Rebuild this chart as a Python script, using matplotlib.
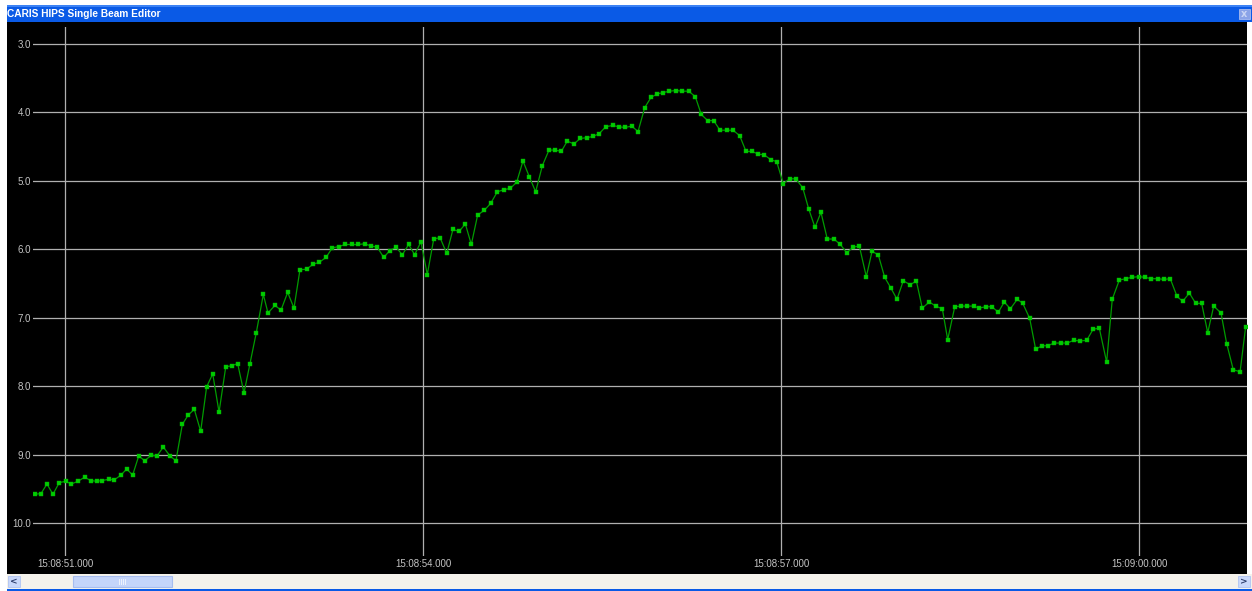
#
# plot.py - CARIS HIPS single beam editor view (depth vs time)
#
import matplotlib
matplotlib.use("Agg")
import matplotlib.pyplot as plt
from matplotlib.patches import Rectangle

# seconds after 15:08:51.000 for each sounding
times = [
    -0.254, -0.201, -0.151, -0.101, -0.048, 0.006, 0.053, 0.109, 0.165, 0.215,
    0.266, 0.310, 0.369, 0.413, 0.469, 0.517, 0.567, 0.618, 0.668, 0.723,
    0.771, 0.824, 0.880, 0.930, 0.983, 1.033, 1.084, 1.137, 1.187, 1.238,
    1.291, 1.347, 1.399, 1.447, 1.500, 1.550, 1.603, 1.662, 1.701, 1.760,
    1.810, 1.866, 1.919, 1.969, 2.025, 2.078, 2.131, 2.187, 2.240, 2.294,
    2.349, 2.403, 2.455, 2.511, 2.562, 2.617, 2.671, 2.721, 2.774, 2.827,
    2.880, 2.930, 2.983, 3.036, 3.090, 3.143, 3.199, 3.251, 3.302, 3.355,
    3.405, 3.458, 3.514, 3.567, 3.623, 3.676, 3.732, 3.785, 3.838, 3.891,
    3.944, 4.000, 4.056, 4.109, 4.159, 4.209, 4.265, 4.318, 4.372, 4.427,
    4.477, 4.531, 4.590, 4.640, 4.693, 4.749, 4.802, 4.858, 4.911, 4.963,
    5.014, 5.064, 5.123, 5.173, 5.227, 5.282, 5.332, 5.386, 5.436, 5.489,
    5.545, 5.598, 5.654, 5.707, 5.757, 5.810, 5.860, 5.914, 5.964, 6.019,
    6.073, 6.123, 6.182, 6.232, 6.285, 6.335, 6.388, 6.444, 6.497, 6.551,
    6.606, 6.656, 6.715, 6.763, 6.815, 6.869, 6.922, 6.972, 7.025, 7.084,
    7.134, 7.184, 7.243, 7.296, 7.352, 7.397, 7.456, 7.506, 7.559, 7.615,
    7.659, 7.715, 7.768, 7.821, 7.871, 7.922, 7.980, 8.026, 8.084, 8.134,
    8.187, 8.235, 8.288, 8.346, 8.399, 8.453, 8.508, 8.562, 8.615, 8.667,
    8.729, 8.776, 8.835, 8.889, 8.941, 8.998, 9.050, 9.103, 9.157, 9.210,
    9.262, 9.319, 9.366, 9.422, 9.475, 9.525, 9.576, 9.626, 9.687, 9.735,
    9.790, 9.847, 9.894,
]

# depth in metres
depths = [
    9.58, 9.57, 9.43, 9.58, 9.41, 9.39, 9.43, 9.39, 9.33, 9.38,
    9.39, 9.38, 9.36, 9.37, 9.30, 9.21, 9.30, 9.02, 9.09, 9.01,
    9.02, 8.89, 9.02, 9.09, 8.56, 8.42, 8.34, 8.66, 8.01, 7.82,
    8.38, 7.72, 7.70, 7.67, 8.10, 7.67, 7.22, 6.66, 6.93, 6.82,
    6.89, 6.63, 6.86, 6.30, 6.29, 6.22, 6.19, 6.12, 5.98, 5.96,
    5.93, 5.93, 5.93, 5.92, 5.95, 5.97, 6.12, 6.02, 5.97, 6.08,
    5.93, 6.08, 5.89, 6.37, 5.85, 5.83, 6.06, 5.71, 5.74, 5.63,
    5.93, 5.50, 5.43, 5.33, 5.16, 5.13, 5.11, 5.02, 4.71, 4.94,
    5.16, 4.78, 4.55, 4.55, 4.57, 4.42, 4.46, 4.38, 4.37, 4.35,
    4.31, 4.21, 4.19, 4.21, 4.22, 4.20, 4.28, 3.93, 3.78, 3.73,
    3.71, 3.69, 3.68, 3.69, 3.69, 3.77, 4.03, 4.12, 4.12, 4.26,
    4.26, 4.26, 4.34, 4.57, 4.57, 4.61, 4.62, 4.69, 4.72, 5.04,
    4.97, 4.97, 5.10, 5.41, 5.68, 5.46, 5.85, 5.85, 5.93, 6.05,
    5.97, 5.95, 6.40, 6.03, 6.08, 6.41, 6.57, 6.73, 6.46, 6.52,
    6.46, 6.86, 6.77, 6.83, 6.87, 7.32, 6.84, 6.83, 6.83, 6.83,
    6.86, 6.84, 6.84, 6.92, 6.77, 6.87, 6.73, 6.79, 7.01, 7.46,
    7.41, 7.41, 7.37, 7.37, 7.37, 7.33, 7.34, 7.33, 7.17, 7.15,
    7.65, 6.73, 6.45, 6.43, 6.41, 6.40, 6.41, 6.43, 6.43, 6.44,
    6.43, 6.69, 6.76, 6.64, 6.79, 6.79, 7.22, 6.83, 6.93, 7.38,
    7.76, 7.79, 7.13,
]

depth_ticks = [3.0, 4.0, 5.0, 6.0, 7.0, 8.0, 9.0, 10.0]
time_ticks = [0, 3, 6, 9]
time_labels = ["15:08:51.000", "15:08:54.000", "15:08:57.000", "15:09:00.000"]

W, H = 1252, 591
fig = plt.figure(figsize=(W / 100, H / 100), dpi=100, facecolor="white")

# window chrome drawn in pixel coordinates
bg = fig.add_axes([0, 0, 1, 1])
bg.set_xlim(0, W)
bg.set_ylim(H, 0)
bg.axis("off")

bg.add_patch(Rectangle((7, 5), W - 7, 17, color="#0a5ae6", lw=0))
bg.add_patch(Rectangle((7, 5), W - 7, 2, color="#3c82f4", lw=0))
bg.text(7, 14, "CARIS HIPS Single Beam Editor", color="white",
        fontsize=7.3, fontweight="bold", family="Liberation Sans",
        va="center", ha="left")
# greyed close button
bg.add_patch(Rectangle((1238.5, 9), 11, 10, facecolor="#8aa3e8",
                       edgecolor="#a9bcf0", lw=0.6))
bg.text(1244, 14, "x", color="#c9d5f5", fontsize=7, fontweight="bold",
        ha="center", va="center")

# black plotting canvas
bg.add_patch(Rectangle((7, 22), 1240, 552, color="black", lw=0))

# scrollbar
bg.add_patch(Rectangle((7, 574), W - 7, 15, color="#f4f2ec", lw=0))
bg.add_patch(Rectangle((8, 576), 12, 11, facecolor="#c9d8fb",
                       edgecolor="#b0c4f2", lw=0.6))
bg.text(14, 581.5, "<", color="#2b3c6b", fontsize=6.5, fontweight="bold",
        ha="center", va="center")
bg.add_patch(Rectangle((1238, 576), 12, 11, facecolor="#c9d8fb",
                       edgecolor="#b0c4f2", lw=0.6))
bg.text(1244, 581.5, ">", color="#2b3c6b", fontsize=6.5, fontweight="bold",
        ha="center", va="center")
bg.add_patch(Rectangle((73, 576), 99, 11, facecolor="#c4d5fa",
                       edgecolor="#a6bdf0", lw=0.8))
for gx in (119, 121, 123, 125):
    bg.plot([gx, gx], [579, 584], color="#eef3fe", lw=0.7)
bg.add_patch(Rectangle((7, 588.5), W - 7, 2.5, color="#0a5ae6", lw=0))

# data axes
left, right, top, bottom = 33, 1247, 27, 556
ax = fig.add_axes([left / W, (H - bottom) / H, (right - left) / W, (bottom - top) / H])
ax.set_facecolor("black")
for s in ax.spines.values():
    s.set_visible(False)

ax.plot(times, depths, color="#009c00", lw=0.9, marker="s", markersize=3.0,
        markerfacecolor="#00cc00", markeredgecolor="#00b000", markeredgewidth=0.3)

ax.set_xlim(-0.268, 9.905)
ax.set_ylim(10.482, 2.752)

ax.set_yticks(depth_ticks)
ax.set_yticklabels([f"{d:.1f}" for d in depth_ticks])
ax.set_xticks(time_ticks)
ax.set_xticklabels(time_labels)
ax.tick_params(length=0, colors="#c4c4c4", labelsize=7)
ax.tick_params(axis="y", pad=1.5)
ax.tick_params(axis="x", pad=2.5)
for lab in ax.get_xticklabels() + ax.get_yticklabels():
    lab.set_family("Liberation Sans")

ax.grid(True, color="#b0b0b0", lw=0.9)
ax.set_axisbelow(True)

fig.savefig("out.png", dpi=100, facecolor="white")
